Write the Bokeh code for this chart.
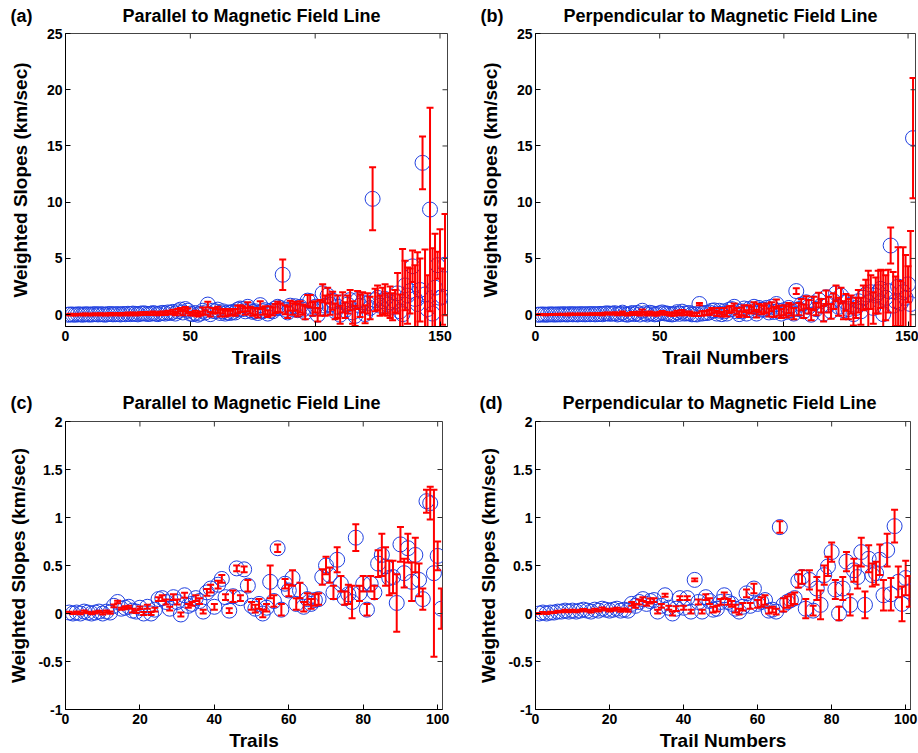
import math
from bokeh.plotting import figure
from bokeh.models import Range1d, FixedTicker, ColumnDataSource
from bokeh.layouts import column, row
from bokeh.embed import file_html
from bokeh.resources import INLINE

# ---------------- data ----------------
# (a) parallel, all trails
slope_a = [0.0,0.02,0.01,0.0,0.03,0.02,0.0,0.04,0.02,0.01,0.03,0.05,0.02,0.04,0.03,0.0,0.05,0.06,0.03,0.04,
           0.05,0.02,0.06,0.04,0.08,0.05,0.1,0.07,0.03,0.09,0.12,0.1,0.06,0.08,0.14,0.1,0.05,0.12,0.16,0.1,
           0.2,0.15,0.25,0.1,0.3,0.45,0.2,0.5,0.35,0.1,0.05,0.15,0.0,0.1,0.35,0.2,0.9,0.05,0.35,0.3,
           0.45,0.15,0.3,0.1,0.2,0.15,0.25,0.2,0.45,0.55,0.5,0.3,0.7,0.4,0.25,0.3,0.15,0.85,0.3,0.4,
           0.1,0.35,0.3,0.55,0.7,0.6,3.55,0.45,0.2,0.8,0.5,0.75,0.4,0.7,0.45,0.2,1.25,1.2,0.5,0.7,
           0.0,0.6,1.9,0.8,1.7,0.9,1.25,0.3,0.7,0.0,1.1,0.4,0.9,1.3,0.2,-0.1,1.3,0.8,1.1,0.05,
           1.0,0.6,10.3,1.3,1.5,0.8,1.2,1.4,0.9,1.1,0.7,1.2,1.9,0.3,0.05,2.6,1.7,2.1,4.3,1.4,
           0.95,2.2,13.5,1.8,0.5,9.35,0.1,2.4,4.4,1.5,1.6,4.45]
err_a = [0.05,0.06,0.05,0.07,0.06,0.05,0.08,0.06,0.07,0.05,0.08,0.06,0.07,0.09,0.06,0.08,0.07,0.1,0.08,0.07,
         0.09,0.08,0.1,0.07,0.12,0.1,0.09,0.11,0.08,0.12,0.1,0.13,0.09,0.11,0.14,0.12,0.1,0.15,0.13,0.12,
         0.15,0.12,0.18,0.14,0.2,0.15,0.25,0.18,0.2,0.15,0.12,0.2,0.15,0.18,0.3,0.2,0.25,0.2,0.25,0.2,
         0.25,0.3,0.2,0.25,0.3,0.2,0.25,0.3,0.35,0.3,0.25,0.3,0.4,0.3,0.35,0.3,0.4,0.35,0.3,0.35,
         0.3,0.4,0.35,0.4,0.45,0.4,1.35,0.4,0.5,0.45,0.5,0.4,0.55,0.5,0.45,0.6,0.5,0.55,0.6,0.5,
         0.6,0.7,0.8,0.9,0.7,0.9,0.8,0.7,1.0,0.8,0.9,0.7,0.8,0.9,1.0,0.9,0.8,1.0,0.9,0.8,
         0.9,1.0,2.8,1.0,1.1,0.9,1.2,1.3,1.0,1.4,1.2,1.0,1.8,1.5,5.8,2.2,2.5,2.0,1.4,3.0,
         4.6,2.8,2.35,4.0,3.0,9.05,5.8,4.8,1.2,6.1,2.5,4.5]

# (b) perpendicular, all trails
slope_b = [0.0,0.01,0.02,0.0,0.01,0.03,0.02,0.01,0.03,0.02,0.04,0.03,0.02,0.05,0.03,0.04,0.02,0.05,0.04,0.03,
           0.05,0.04,0.06,0.03,0.05,0.07,0.04,0.1,0.12,0.08,0.1,0.13,0.02,0.07,0.18,0.05,0.0,0.06,0.15,0.05,
           0.16,0.02,0.35,0.12,0.02,0.17,0.12,0.03,0.05,0.13,0.2,0.12,0.1,0.05,0.02,0.07,0.22,0.08,0.27,0.1,
           0.12,0.15,0.03,0.05,0.02,0.95,0.1,0.15,0.15,0.2,0.35,0.38,0.1,0.35,0.05,0.3,0.1,0.45,0.5,0.7,
           0.3,0.05,0.3,0.55,0.1,0.5,0.4,0.7,0.1,0.6,0.45,0.45,0.6,0.2,0.7,0.25,0.95,0.35,0.1,0.4,
           0.25,0.6,0.4,0.1,2.1,0.5,0.9,0.3,1.1,0.7,0.0,1.0,0.5,1.3,0.8,0.1,1.55,0.9,0.3,1.2,
           1.9,0.7,1.7,0.4,1.1,0.5,0.9,0.05,0.6,1.2,0.3,1.5,1.8,1.1,2.0,0.6,1.7,2.0,2.3,0.05,
           1.5,2.1,6.15,0.8,1.2,2.5,1.0,2.0,1.5,2.7,0.95,15.7]
err_b = [0.03,0.04,0.03,0.05,0.04,0.03,0.05,0.04,0.05,0.04,0.05,0.04,0.06,0.05,0.04,0.06,0.05,0.06,0.05,0.06,
         0.06,0.05,0.07,0.06,0.07,0.06,0.08,0.07,0.08,0.07,0.08,0.09,0.07,0.08,0.1,0.08,0.07,0.09,0.1,0.08,
         0.1,0.09,0.12,0.1,0.09,0.12,0.1,0.11,0.12,0.1,0.13,0.12,0.11,0.13,0.12,0.14,0.13,0.12,0.15,0.14,
         0.15,0.14,0.13,0.15,0.14,0.1,0.2,0.18,0.2,0.22,0.25,0.2,0.22,0.25,0.2,0.3,0.25,0.3,0.28,0.3,
         0.3,0.25,0.35,0.3,0.3,0.35,0.3,0.4,0.35,0.35,0.4,0.35,0.4,0.35,0.4,0.45,0.4,0.45,0.4,0.45,
         0.5,0.45,0.5,0.5,0.25,0.55,0.5,0.6,0.55,0.6,0.5,0.6,0.55,0.65,0.6,0.7,0.6,0.7,0.65,0.7,
         0.7,0.8,0.7,0.8,0.75,0.9,0.8,1.0,0.9,1.0,1.2,1.1,1.3,2.8,1.5,1.4,1.6,1.9,1.7,3.9,
         2.0,1.9,1.6,3.0,2.2,3.5,2.0,4.0,3.8,1.6,6.5,5.35]

# (c) parallel, selected trails
slope_c = [0.01,0.0,0.01,0.0,0.02,0.01,0.0,0.01,0.02,0.0,
           0.02,0.01,0.08,0.12,0.05,0.06,0.07,0.03,0.02,0.06,
           0.0,0.07,0.0,0.04,0.15,0.16,0.12,0.05,0.17,0.12,
           -0.01,0.19,0.08,0.1,0.16,0.13,0.02,0.22,0.26,0.07,
           0.3,0.36,0.17,0.03,0.18,0.47,0.16,0.46,0.29,0.08,
           0.05,0.1,0.0,0.06,0.33,0.13,0.68,0.04,0.31,0.24,
           0.37,0.1,0.24,0.07,0.15,0.1,0.14,0.15,0.38,0.5,
           0.4,0.22,0.56,0.31,0.16,0.2,0.12,0.79,0.21,0.31,
           0.04,0.31,0.22,0.52,0.61,0.49,0.37,0.38,0.11,0.72,
           0.42,0.68,0.33,0.61,0.35,0.15,1.17,1.15,0.42,0.6,
           0.05]
err_c = [0.008,0.006,0.01,0.008,0.01,0.007,0.009,0.01,0.008,0.01,
         0.01,0.012,0.015,0.012,0.01,0.015,0.012,0.02,0.015,0.012,
         0.015,0.02,0.015,0.02,0.02,0.03,0.025,0.02,0.03,0.025,
         0.02,0.025,0.02,0.02,0.03,0.03,0.02,0.035,0.04,0.03,
         0.04,0.04,0.03,0.025,0.06,0.03,0.03,0.03,0.06,0.04,
         0.04,0.05,0.04,0.04,0.17,0.06,0.04,0.06,0.05,0.06,
         0.08,0.06,0.08,0.05,0.06,0.05,0.06,0.06,0.08,0.09,
         0.08,0.07,0.13,0.08,0.07,0.1,0.17,0.14,0.08,0.08,
         0.06,0.08,0.07,0.14,0.22,0.2,0.18,0.17,0.3,0.18,
         0.15,0.15,0.2,0.18,0.17,0.11,0.12,0.17,0.87,0.15,
         0.21]

# (d) perpendicular, selected trails
slope_d = [0.0,0.01,0.0,0.01,0.01,0.02,0.02,0.03,0.02,0.03,
           0.02,0.03,0.04,0.03,0.02,0.04,0.03,0.05,0.04,0.03,
           0.04,0.05,0.03,0.04,0.03,0.1,0.08,0.12,0.15,0.1,
           0.13,0.14,0.02,0.08,0.19,0.06,0.0,0.05,0.16,0.06,
           0.16,0.02,0.35,0.12,0.02,0.17,0.13,0.04,0.05,0.12,
           0.19,0.12,0.1,0.05,0.02,0.07,0.21,0.08,0.26,0.1,
           0.12,0.14,0.03,0.04,0.02,0.9,0.09,0.12,0.14,0.16,
           0.34,0.38,0.05,0.35,0.03,0.26,0.09,0.4,0.49,0.64,
           0.25,0.0,0.26,0.54,0.09,0.45,0.38,0.64,0.09,0.57,
           0.4,0.42,0.56,0.19,0.66,0.2,0.91,0.33,0.1,0.37,
           0.23]
err_d = [0.005,0.006,0.005,0.007,0.006,0.008,0.007,0.008,0.007,0.008,
         0.008,0.009,0.008,0.01,0.009,0.01,0.01,0.012,0.01,0.01,
         0.012,0.01,0.012,0.011,0.012,0.02,0.02,0.025,0.02,0.02,
         0.025,0.02,0.02,0.02,0.015,0.02,0.02,0.025,0.02,0.02,
         0.02,0.02,0.015,0.025,0.02,0.03,0.03,0.03,0.03,0.03,
         0.03,0.03,0.03,0.04,0.03,0.04,0.04,0.03,0.05,0.04,
         0.05,0.05,0.03,0.03,0.03,0.06,0.07,0.06,0.06,0.06,
         0.07,0.07,0.1,0.1,0.05,0.12,0.15,0.1,0.1,0.1,
         0.1,0.07,0.12,0.1,0.11,0.12,0.12,0.15,0.14,0.14,
         0.12,0.12,0.16,0.16,0.17,0.17,0.17,0.16,0.18,0.18,
         0.16]

titles = ["Parallel to Magnetic Field Line", "Perpendicular to Magnetic Field Line",
          "Parallel to Magnetic Field Line", "Perpendicular to Magnetic Field Line"]
tags = ["(a)", "(b)", "(c)", "(d)"]
x_labels = ["Trails", "Trail Numbers", "Trails", "Trail Numbers"]
y_label = "Weighted Slopes (km/sec)"

x_ticks_all = [0, 50, 100, 150]
y_ticks_all = [0, 5, 10, 15, 20, 25]
y_tick_labels_all = ["0", "5", "10", "15", "20", "25"]
x_ticks_sel = [0, 20, 40, 60, 80, 100]
y_ticks_sel = [-1, -0.5, 0, 0.5, 1, 1.5, 2]
y_tick_labels_sel = ["-1", "-0.5", "0", "0.5", "1", "1.5", "2"]

SANS = "Liberation Sans"
NBSP = "\u00a0"


def make_panel(tag, title, xlabel, slopes, errs, x_end, y_start, y_end,
               x_ticks, y_ticks, y_tick_labels, width, height,
               bl, br, bt, bb, ylab_standoff, tag_offset, gap, title_valign, title_standoff):
    n = min(len(slopes), len(errs))
    x = list(range(1, n + 1))
    ys = slopes[:n]
    lo = [s - e for s, e in zip(ys, errs[:n])]
    hi = [s + e for s, e in zip(ys, errs[:n])]
    src = ColumnDataSource(dict(x=x, y=ys, lo=lo, hi=hi))
    p = figure(width=width, height=height, output_backend="svg", toolbar_location=None,
               x_range=Range1d(0, x_end), y_range=Range1d(y_start, y_end),
               min_border_left=bl, min_border_right=br, min_border_top=bt, min_border_bottom=bb)
    p.scatter("x", "y", source=src, marker="circle", size=15, fill_color=None,
              line_color="#2040e0", line_width=1)
    p.segment("x", "lo", "x", "hi", source=src, line_color="#ff0000", line_width=2)
    p.scatter("x", "hi", source=src, marker="dash", size=7, line_color="#ff0000", line_width=2)
    p.scatter("x", "lo", source=src, marker="dash", size=7, line_color="#ff0000", line_width=2)

    # mirrored inward ticks on right and top edges (half of each dash is clipped by the frame)
    p.scatter(x=[x_end] * len(y_ticks), y=y_ticks, marker="dash", size=10,
              line_color="#333333", line_width=1)
    p.scatter(x=x_ticks, y=[y_end] * len(x_ticks), marker="dash", angle=math.pi / 2, size=10,
              line_color="#333333", line_width=1)

    p.xgrid.grid_line_color = None
    p.ygrid.grid_line_color = None
    p.outline_line_color = "#444444"
    p.outline_line_width = 1

    p.xaxis.ticker = FixedTicker(ticks=x_ticks)
    p.yaxis.ticker = FixedTicker(ticks=y_ticks)
    p.yaxis.major_label_overrides = {t: l for t, l in zip(y_ticks, y_tick_labels)}
    p.xaxis.axis_label = xlabel
    p.yaxis.axis_label = y_label
    for ax in p.xaxis + p.yaxis:
        ax.major_tick_in = 5
        ax.major_tick_out = 0
        ax.minor_tick_line_color = None
        ax.axis_line_color = "black"
        ax.major_tick_line_color = "black"
        ax.major_label_text_font = SANS
        ax.major_label_text_font_style = "bold"
        ax.major_label_text_font_size = "14px"
        ax.major_label_text_color = "black"
        ax.axis_label_text_font = SANS
        ax.axis_label_text_font_style = "bold"
        ax.axis_label_text_font_size = "19px"
        ax.axis_label_text_color = "black"
    p.xaxis.major_label_standoff = 4
    p.xaxis.axis_label_standoff = 3
    p.yaxis.major_label_standoff = 3
    p.yaxis.axis_label_standoff = ylab_standoff

    # panel tag and heading share one title line
    p.title.text = tag + NBSP * gap + title
    p.title.align = "left"
    p.title.offset = tag_offset
    p.title.vertical_align = title_valign
    p.title.standoff = title_standoff
    p.title.text_font = SANS
    p.title.text_font_style = "bold"
    p.title.text_font_size = "18px"
    p.title.text_color = "black"
    return p


pa = make_panel(tags[0], titles[0], x_labels[0], slope_a, err_a, 153, -1.05, 25,
                x_ticks_all, y_ticks_all, y_tick_labels_all, 458, 380, 65, 11, 33, 54, 13,
                -55, 18, "top", 11)
pb = make_panel(tags[1], titles[1], x_labels[1], slope_b, err_b, 153, -1.05, 25,
                x_ticks_all, y_ticks_all, y_tick_labels_all, 460, 380, 77, 3, 33, 54, 13,
                -55, 12, "top", 11)
pc = make_panel(tags[2], titles[2], x_labels[2], slope_c, err_c, 101.3, -1, 2,
                x_ticks_sel, y_ticks_sel, y_tick_labels_sel, 458, 373, 65, 16, 41, 44, 6,
                -55, 18, "bottom", 18)
pd = make_panel(tags[3], titles[3], x_labels[3], slope_d, err_d, 101.3, -1, 2,
                x_ticks_sel, y_ticks_sel, y_tick_labels_sel, 460, 373, 77, 8, 41, 44, 6,
                -56, 12, "bottom", 18)

layout = column(row(pa, pb), row(pc, pd))
open("out.html", "w").write(file_html(layout, INLINE))
